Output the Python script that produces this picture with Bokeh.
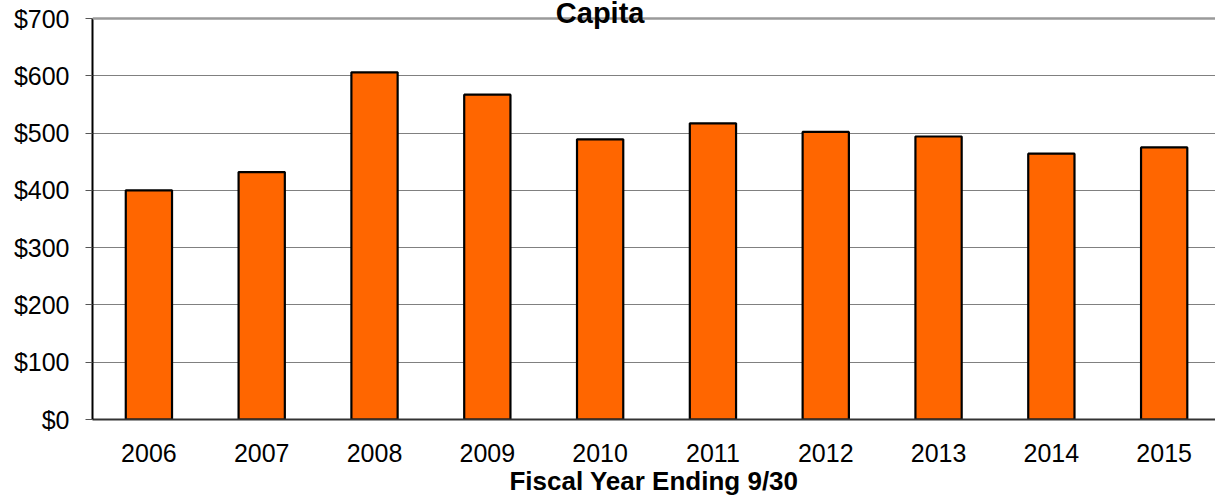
from bokeh.plotting import figure
from bokeh.models import Range1d, FixedTicker, Label, Span
from bokeh.embed import file_html
from bokeh.resources import INLINE

years = ["2006", "2007", "2008", "2009", "2010", "2011", "2012", "2013", "2014", "2015"]
per_capita = [400, 432, 606, 567, 489, 517, 502, 494, 464, 475]
y_ticks = [0, 100, 200, 300, 400, 500, 600, 700]
y_tick_labels = ["$0", "$100", "$200", "$300", "$400", "$500", "$600", "$700"]
title_text = "Capita"
x_title = "Fiscal Year Ending 9/30"

xs = [i + 0.5 for i in range(len(years))]

# frame reaches the top of the canvas; $700 sits 18px below it
y_top = 700 * 419 / 401
p = figure(width=1215, height=502, output_backend="svg", toolbar_location=None,
           x_range=Range1d(0, 9.955), y_range=Range1d(0, y_top),
           min_border_left=92, min_border_right=0, min_border_top=0, min_border_bottom=83)
p.outline_line_color = None
p.background_fill_color = "white"

p.ygrid.ticker = FixedTicker(ticks=y_ticks[:-1])
p.ygrid.grid_line_color = "#808080"
p.ygrid.grid_line_width = 1
p.xgrid.grid_line_color = None

p.add_layout(Span(location=y_ticks[-1], dimension="width", line_color="#9a9a9a", line_width=2.5))

p.vbar(x=xs, top=per_capita, width=0.41, bottom=0,
       fill_color="#FF6600", line_color="black", line_width=2.2)

# y axis
p.yaxis.ticker = FixedTicker(ticks=y_ticks)
p.yaxis.bounds = (y_ticks[0], y_ticks[-1])
p.yaxis.major_label_overrides = {t: l for t, l in zip(y_ticks, y_tick_labels)}
p.yaxis.axis_line_color = "black"
p.yaxis.axis_line_width = 2
p.yaxis.major_tick_out = 7
p.yaxis.major_tick_in = 0
p.yaxis.major_tick_line_color = "#555555"
p.yaxis.minor_tick_line_color = None
p.yaxis.major_label_standoff = 16
p.yaxis.major_label_text_font = "Liberation Sans"
p.yaxis.major_label_text_font_size = "25px"
p.yaxis.major_label_text_color = "black"

# x axis
p.xaxis.ticker = FixedTicker(ticks=xs)
p.xaxis.major_label_overrides = {x: y for x, y in zip(xs, years)}
p.xaxis.axis_line_color = "#333333"
p.xaxis.axis_line_width = 2
p.xaxis.major_tick_line_color = None
p.xaxis.minor_tick_line_color = None
p.xaxis.major_label_standoff = 18
p.xaxis.major_label_text_font = "Liberation Sans"
p.xaxis.major_label_text_font_size = "25px"
p.xaxis.major_label_text_color = "black"
p.xaxis.axis_label = x_title
p.xaxis.axis_label_text_font = "Liberation Sans"
p.xaxis.axis_label_text_font_size = "26px"
p.xaxis.axis_label_text_font_style = "bold"
p.xaxis.axis_label_text_color = "black"
p.xaxis.axis_label_standoff = 1

title = Label(x=4.5, y=710.0, text=title_text, text_align="center", text_baseline="alphabetic",
              text_font="Liberation Sans", text_font_size="29px", text_font_style="bold",
              text_color="black")
p.add_layout(title)

open("out.html", "w").write(file_html(p, INLINE))
